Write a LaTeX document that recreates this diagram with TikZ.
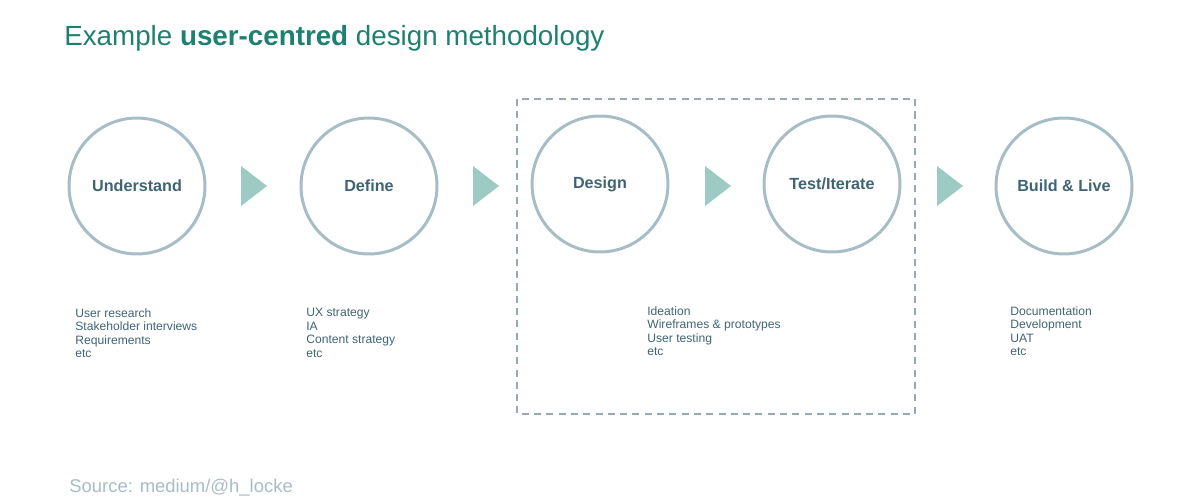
\documentclass[tikz,border=0pt]{standalone}
\usepackage{fontspec}
\setmainfont{Liberation Sans}
\definecolor{ring}{HTML}{A7BDC6}
\definecolor{ink}{HTML}{3F6473}
\definecolor{teal}{HTML}{1E8070}
\definecolor{arrowc}{HTML}{9DCAC2}
\begin{document}
\begin{tikzpicture}[x=0.02cm,y=-0.02cm,
  stage/.style={shape=circle, draw=ring, line width=1.7pt, minimum size=2.72cm, inner sep=0pt, text=ink, font=\fontsize{9.2}{10}\selectfont\bfseries},
  notes/.style={anchor=north west, align=left, text=ink, inner sep=0pt, font=\fontsize{6.9}{7.7}\selectfont},
  step arrow/.style={fill=arrowc}]
\useasboundingbox (0,0) rectangle (1200,500);
\node[anchor=west, text=teal, font=\fontsize{15.8}{18}\selectfont, inner sep=0pt] (title) at (64,38) {Example \textbf{user-centred} design methodology};
\node[stage] (u) at (137,186) {Understand};
\node[stage] (d) at (369,186) {Define};
\node[stage] (g) at (600,184) {Design};
\node[stage] (t) at (832,184) {Test/Iterate};
\node[stage] (b) at (1064,186) {Build \& Live};
\foreach \x in {241,473,705,937}
  \fill[step arrow] (\x,166) -- (\x+26,186) -- (\x,206) -- cycle;
\draw[ring!90!black, dashed, line width=0.8pt, dash pattern=on 4pt off 3pt] (517,99) rectangle (915,414);
\node[notes] (nu) at (75,308) {User research\\Stakeholder interviews\\Requirements\\etc};
\node[notes] (nd) at (306,308) {UX strategy\\IA\\Content strategy\\etc};
\node[notes] (ng) at (647,306) {Ideation\\Wireframes \& prototypes\\User testing\\etc};
\node[notes] (nb) at (1010,306) {Documentation\\Development\\UAT\\etc};
\node[anchor=west, text=ring, font=\fontsize{10.5}{12}\selectfont, inner sep=0pt] (src) at (69,488) {Source: medium/@h\_locke};
\end{tikzpicture}
\end{document}
